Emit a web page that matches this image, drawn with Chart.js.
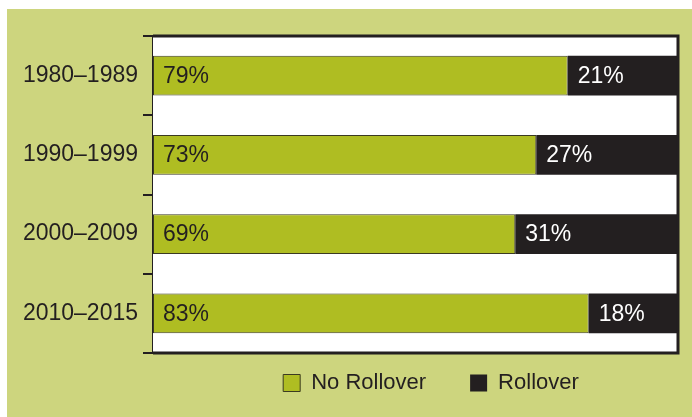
<!DOCTYPE html>
<html>
<head>
<meta charset="utf-8">
<script src="https://cdn.jsdelivr.net/npm/chart.js@4"></script>
<style>
  body { margin: 0; background: #fff; width: 692px; height: 417px; overflow: hidden; }
  #wrap { position: absolute; left: 7px; top: 9px; width: 685px; height: 408px; background: #cdd57e; }
</style>
</head>
<body>
<div id="wrap"><canvas id="myChart"></canvas></div>
<script>
const decades = ['1980–1989', '1990–1999', '2000–2009', '2010–2015'];
const noRollover = [79, 73, 69, 83];
const rollover = [21, 27, 31, 18];

const FONT = '"Liberation Sans", Arial, sans-serif';
const FS = 23;
const LEG_FS = 22;
const DARK = '#231f20';
const GREEN = '#afbd22';

// white plot area + frame, and legend placement under the plot
const plotFrame = {
    id: 'plotFrame',
    afterLayout(chart) {
        const l = chart.legend;
        const lab = l.options.labels;
        const dx = 424 - (l.left + l.right) / 2;
        l.left += dx;
        l.right += dx;
        const itemH = Math.max(LEG_FS, lab.boxHeight);
        l.top = 374 - lab.padding - itemH / 2;
        l.bottom = l.top + 120;
        l.height = 120;
    },
    beforeDatasetsDraw(chart) {
        const { ctx, chartArea: a } = chart;
        ctx.save();
        ctx.fillStyle = '#fff';
        ctx.fillRect(a.left, a.top, a.right - a.left, a.bottom - a.top);
        ctx.restore();
    },
    afterDatasetsDraw(chart) {
        const { ctx, chartArea: a } = chart;
        ctx.save();
        ctx.strokeStyle = DARK;
        ctx.lineWidth = 3;
        ctx.beginPath();
        ctx.moveTo(a.left, a.top);
        ctx.lineTo(a.right, a.top);
        ctx.lineTo(a.right, a.bottom);
        ctx.lineTo(a.left, a.bottom);
        ctx.stroke();
        ctx.restore();
    }
};

// percent labels inside bars
const barLabels = {
    id: 'barLabels',
    afterDatasetsDraw(chart) {
        const ctx = chart.ctx;
        ctx.save();
        ctx.font = FS + 'px ' + FONT;
        ctx.textBaseline = 'middle';
        ctx.textAlign = 'left';
        chart.data.datasets.forEach((ds, i) => {
            chart.getDatasetMeta(i).data.forEach((bar, j) => {
                ctx.fillStyle = i === 0 ? DARK : '#fff';
                ctx.fillText(ds.data[j] + '%', Math.min(bar.base, bar.x) + 10, bar.y + 1);
            });
        });
        ctx.restore();
    }
};

new Chart(document.getElementById('myChart'), {
    type: 'bar',
    data: {
        labels: decades,
        datasets: [{
            label: 'No Rollover',
            data: noRollover,
            backgroundColor: GREEN,
            borderColor: '#3b3a22',
            borderWidth: 1,
            borderSkipped: false
        }, {
            label: 'Rollover',
            data: rollover,
            backgroundColor: DARK,
            borderColor: DARK,
            borderWidth: 0
        }]
    },
    options: {
        indexAxis: 'y',
        responsive: true,
        maintainAspectRatio: false,
        animation: false,
        barPercentage: 0.5,
        categoryPercentage: 1,
        layout: { padding: { top: 27, right: 14, left: 0, bottom: 10 } },
        scales: {
            x: { stacked: true, min: 0, max: 100, display: false },
            y: {
                stacked: true,
                afterFit(scale) { scale.width = 146; },
                border: { display: true, color: DARK, width: 3 },
                grid: {
                    offset: true,
                    drawOnChartArea: false,
                    drawTicks: true,
                    tickLength: 10,
                    color: DARK,
                    lineWidth: 2
                },
                ticks: { color: DARK, padding: 5, font: { family: FONT, size: FS } }
            }
        },
        plugins: {
            tooltip: { enabled: false },
            legend: {
                position: 'bottom',
                maxHeight: 54,
                labels: {
                    color: DARK,
                    boxWidth: 17,
                    boxHeight: 17,
                    padding: 44,
                    font: { family: FONT, size: LEG_FS }
                }
            }
        }
    },
    plugins: [plotFrame, barLabels]
});
</script>
</body>
</html>
